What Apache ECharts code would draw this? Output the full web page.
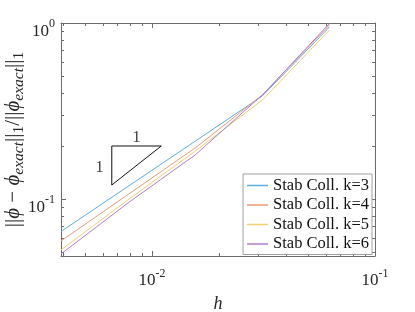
<!DOCTYPE html>
<html>
<head>
<meta charset="utf-8">
<script src="https://cdn.jsdelivr.net/npm/echarts@6/dist/echarts.min.js"></script>
<style>html,body{margin:0;padding:0;background:#fff}#c{width:415px;height:312px}</style>
</head>
<body>
<div id="c"></div>
<script>
// ---- data ----
var hValues = [1/256, 1/128, 1/64, 1/32, 1/16];
var errK3 = [0.0653, 0.118, 0.213, 0.385, 0.949];
var errK4 = [0.0577, 0.106, 0.195, 0.390, 0.974];
var errK5 = [0.0513, 0.099, 0.187, 0.365, 0.912];
var errK6 = [0.0487, 0.095, 0.178, 0.390, 0.994];
var seriesNames = ['Stab Coll. k=3', 'Stab Coll. k=4', 'Stab Coll. k=5', 'Stab Coll. k=6'];
var xMinorTicks = [0.004, 0.005, 0.006, 0.007, 0.008, 0.009, 0.02, 0.03, 0.04, 0.05, 0.06, 0.07, 0.08, 0.09];
var yMinorTicks = [0.05, 0.06, 0.07, 0.08, 0.09, 0.2, 0.3, 0.4, 0.5, 0.6, 0.7, 0.8, 0.9];
var triX = [0.0066, 0.011];
var triY = [0.12, 0.2];
var slopeLabels = ['1', '1'];

var X_MIN = 1/256, X_MAX = 0.1, Y_MIN = 0.0474, Y_MAX = 1;
var FONT = 'Liberation Serif';
var AX = '#6b6b6b';
var colors = ['#5eaee3', '#ee9a7a', '#f3cf74', '#b27fc4'];

function pow10Label(v) {
  var e = Math.log10(v);
  var r = Math.round(e);
  if (Math.abs(e - r) > 1e-6) return '';
  return '{b|10}{s|' + r + '}';
}
var labelRichX = {
  b: {fontFamily: FONT, fontSize: 17, color: '#262626', padding: [8, 0, 0, 0]},
  s: {fontFamily: FONT, fontSize: 12, color: '#262626', padding: [0, 0, 6, 0]}
};
var labelRichY = {
  b: {fontFamily: FONT, fontSize: 17, color: '#262626', padding: [10, 0, 0, 0]},
  s: {fontFamily: FONT, fontSize: 12, color: '#262626', padding: [0, 0, 6, 0]}
};

function mkX(pos, show) {
  return {
    type: 'log', logBase: 10, min: X_MIN, max: X_MAX, position: pos,
    axisLine: {show: true, onZero: false, lineStyle: {color: AX, width: 1}},
    axisTick: {show: true, inside: true, length: 5, lineStyle: {color: AX}},
    axisLabel: {show: show, formatter: pow10Label, rich: labelRichX, margin: 8},
    splitLine: {show: false}, minorTick: {show: false},
    name: show ? 'h' : '', nameLocation: 'middle', nameGap: 39, nameMoveOverlap: false,
    nameTextStyle: {fontFamily: FONT, fontSize: 18, fontStyle: 'italic', color: '#262626'}
  };
}
function mkY(pos, show) {
  return {
    type: 'log', logBase: 10, min: Y_MIN, max: Y_MAX, position: pos,
    axisLine: {show: true, onZero: false, lineStyle: {color: AX, width: 1}},
    axisTick: {show: true, inside: true, length: 5, lineStyle: {color: AX}},
    axisLabel: {show: show, formatter: pow10Label, rich: labelRichY, margin: 6, padding: [8, 0, 0, 0]},
    splitLine: {show: false}, minorTick: {show: false},
    name: show ? '{n|||}{i|ϕ}{n| − }{i|ϕ}{si|exact}{n|||}{s|1}{n|/||}{i|ϕ}{si|exact}{n|||}{s|1}' : '',
    nameLocation: 'middle', nameGap: 34, nameRotate: 90, nameMoveOverlap: false,
    nameTextStyle: {
      color: '#262626',
      rich: {
        n: {fontFamily: FONT, fontSize: 21, color: '#262626'},
        i: {fontFamily: FONT, fontSize: 21, fontStyle: 'italic', color: '#262626'},
        si: {fontFamily: FONT, fontSize: 15.5, fontStyle: 'italic', color: '#262626', padding: [11, 0, 0, 0]},
        s: {fontFamily: FONT, fontSize: 15.5, color: '#262626', padding: [11, 0, 0, 0]}
      }
    }
  };
}

function minorTickSeries(vals, isX) {
  return {
    type: 'custom', silent: true, xAxisIndex: 0, yAxisIndex: 0, clip: false,
    data: vals.map(function (v) { return isX ? [v, Y_MAX] : [X_MAX, v]; }),
    renderItem: function (params, api) {
      var cs = params.coordSys;
      var L = 3;
      var style = {stroke: AX, lineWidth: 1};
      if (isX) {
        var px = Math.round(api.coord([api.value(0), Y_MAX])[0]) + 0.5;
        return {type: 'group', children: [
          {type: 'line', shape: {x1: px, y1: cs.y + cs.height, x2: px, y2: cs.y + cs.height - L}, style: style},
          {type: 'line', shape: {x1: px, y1: cs.y, x2: px, y2: cs.y + L}, style: style}
        ]};
      } else {
        var py = Math.round(api.coord([X_MAX, api.value(1)])[1]) + 0.5;
        return {type: 'group', children: [
          {type: 'line', shape: {x1: cs.x, y1: py, x2: cs.x + L, y2: py}, style: style},
          {type: 'line', shape: {x1: cs.x + cs.width, y1: py, x2: cs.x + cs.width - L, y2: py}, style: style}
        ]};
      }
    }
  };
}

var errSets = [errK3, errK4, errK5, errK6];
var series = errSets.map(function (arr, i) {
  return {
    name: seriesNames[i], type: 'line', symbol: 'none', silent: true,
    xAxisIndex: 0, yAxisIndex: 0,
    lineStyle: {color: colors[i], width: 1}, itemStyle: {color: colors[i]},
    data: hValues.map(function (h, j) { return [h, arr[j]]; })
  };
});
// slope triangle
series.push({
  name: 'triangle', type: 'line', symbol: 'none', silent: true,
  xAxisIndex: 0, yAxisIndex: 0,
  lineStyle: {color: '#111', width: 1},
  data: [[triX[0], triY[1]], [triX[1], triY[1]], [triX[0], triY[0]], [triX[0], triY[1]]]
});
series.push({
  name: 'triLabels', type: 'scatter', symbolSize: 0, silent: true,
  xAxisIndex: 0, yAxisIndex: 0,
  data: [
    {value: [Math.sqrt(triX[0] * triX[1]), triY[1]], label: {show: true, position: 'top', distance: 0, formatter: slopeLabels[0]}},
    {value: [triX[0], Math.sqrt(triY[0] * triY[1])], label: {show: true, position: 'left', distance: 8, offset: [0, 2], formatter: slopeLabels[1]}}
  ],
  label: {fontFamily: FONT, fontSize: 17, color: '#111'}
});
series.push(minorTickSeries(xMinorTicks, true));
series.push(minorTickSeries(yMinorTicks, false));

var chart = echarts.init(document.getElementById('c'), null, {renderer: 'canvas'});
chart.setOption({
  animation: false,
  backgroundColor: '#fff',
  grid: {left: 61, right: 40, top: 23, bottom: 56, containLabel: false, outerBoundsMode: 'none'},
  xAxis: [mkX('bottom', true), mkX('top', false)],
  yAxis: [mkY('left', true), mkY('right', false)],
  legend: {
    data: seriesNames.map(function (n, i) { return {name: n, itemStyle: {color: colors[i]}}; }),
    orient: 'vertical', right: 43, top: 174,
    backgroundColor: '#fff', borderColor: '#a0a0a0', borderWidth: 1,
    padding: [3, 3, 2, 4], itemGap: 2.5, itemWidth: 21, itemHeight: 1.5,
    icon: 'rect',
    textStyle: {fontFamily: FONT, fontSize: 16.5, color: '#111', lineHeight: 15}
  },
  series: series
});
</script>
</body>
</html>
